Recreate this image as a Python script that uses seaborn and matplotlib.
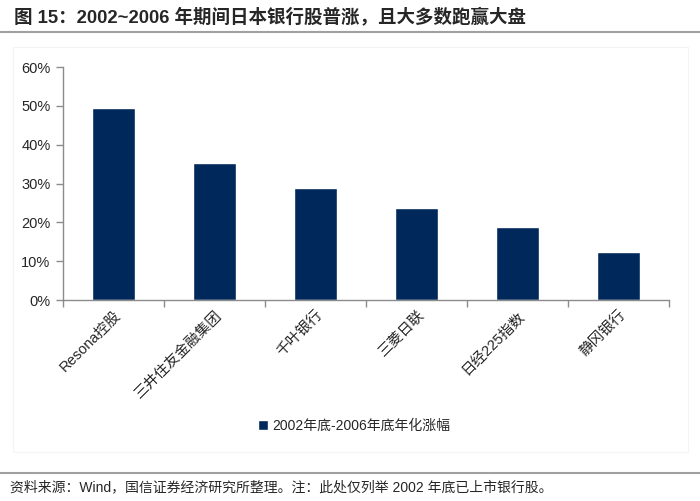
import matplotlib
matplotlib.use("Agg")
import matplotlib.pyplot as plt
import matplotlib.ticker as mticker
import numpy as np
import pandas as pd
import seaborn as sns

banks = ["Resona控股", "三井住友金融集团", "千叶银行", "三菱日联", "日经225指数", "静冈银行"]
returns = [0.495, 0.352, 0.288, 0.236, 0.189, 0.123]
series_name = "2002年底-2006年底年化涨幅"
yticks = [0, 0.1, 0.2, 0.3, 0.4, 0.5, 0.6]

title = "图 15：2002~2006 年期间日本银行股普涨，且大多数跑赢大盘"
source = "资料来源：Wind，国信证券经济研究所整理。注：此处仅列举 2002 年底已上市银行股。"

df = pd.DataFrame({"bank": banks, "ret": returns, "series": series_name})

sns.set_theme(style="white")
plt.rcParams["font.family"] = ["Liberation Sans", "Noto Sans CJK SC", "DejaVu Sans"]
plt.rcParams["axes.unicode_minus"] = False

navy = "#00285A"
axis_grey = "#8c8c8c"

fig = plt.figure(figsize=(7.0, 5.01), dpi=100)
ax = fig.add_axes([0.09, 0.401, 0.866, 0.465])

sns.barplot(data=df, x="bank", y="ret", hue="series", palette=[navy],
            width=0.42, ax=ax, saturation=1)

ax.set_ylim(0, 0.6)
ax.set_xlim(-0.5, len(banks) - 0.5)
ax.set_yticks(yticks)
ax.yaxis.set_major_formatter(mticker.PercentFormatter(1.0, decimals=0))
ax.set_xlabel("")
ax.set_ylabel("")

for s in ["top", "right"]:
    ax.spines[s].set_visible(False)
for s in ["left", "bottom"]:
    ax.spines[s].set_color(axis_grey)
    ax.spines[s].set_linewidth(1.0)

ax.tick_params(axis="y", which="major", length=5, width=1, color=axis_grey,
               labelsize=10.5, pad=4, left=True)
ax.tick_params(axis="x", which="major", length=0, labelsize=10.5, pad=6)
ax.set_xticks(np.arange(-0.5, len(banks)), minor=True)
ax.tick_params(axis="x", which="minor", length=5, width=1, color=axis_grey, bottom=True)
plt.setp(ax.get_xticklabels(), rotation=45, ha="right", rotation_mode="anchor")

leg = ax.legend(loc="center", bbox_to_anchor=(0.506, 0.15), bbox_transform=fig.transFigure,
                frameon=False, fontsize=10, handlelength=0.7, handleheight=0.7,
                handletextpad=0.3)

# title, rules and source note
fig.text(0.02, 0.966, title, fontsize=13.3, fontweight="bold", va="center", ha="left")
fig.add_artist(plt.Line2D([0, 1], [0.936, 0.936], color="#a0a0a0", lw=1.5,
                          transform=fig.transFigure))
fig.add_artist(plt.Line2D([0, 1], [0.055, 0.055], color="#a0a0a0", lw=1.5,
                          transform=fig.transFigure))
fig.add_artist(plt.Rectangle((0.019, 0.098), 0.964, 0.808, fill=False,
                             edgecolor="#f4f4f4", lw=0.8, transform=fig.transFigure))
fig.text(0.014, 0.028, source, fontsize=10, va="center", ha="left")

fig.savefig("out.png", dpi=100)
